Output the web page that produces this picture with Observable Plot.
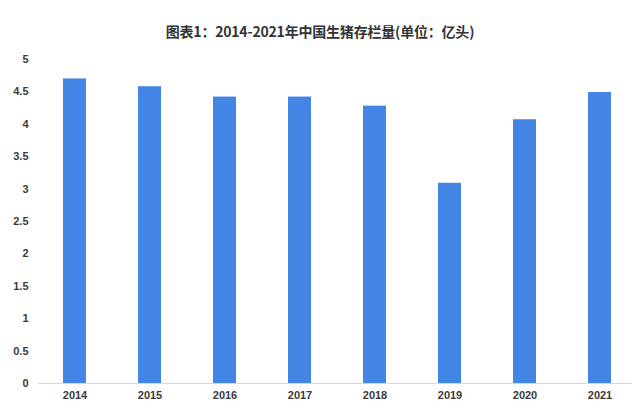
<!DOCTYPE html>
<html>
<head>
<meta charset="utf-8">
<script src="https://cdn.jsdelivr.net/npm/d3@7"></script>
<script src="https://cdn.jsdelivr.net/npm/@observablehq/plot@0.6"></script>
<style>
  html, body { margin: 0; padding: 0; background: #fff; }
  #wrap { width: 640px; height: 410px; overflow: hidden; }
  #title {
    box-sizing: border-box; height: 46px; padding-top: 21px; line-height: 20px;
    text-align: center; font: bold 14px "Noto Sans CJK SC", "Liberation Sans Narrow", sans-serif;
    color: #333; letter-spacing: -0.2px;
  }
</style>
</head>
<body>
<div id="wrap">
  <div id="title">图表1：2014-2021年中国生猪存栏量(单位：亿头)</div>
  <div id="chart"></div>
</div>
<script>
const years = ["2014", "2015", "2016", "2017", "2018", "2019", "2020", "2021"];
const values = [4.70, 4.58, 4.42, 4.42, 4.28, 3.09, 4.07, 4.49];
const yTicks = [0, 0.5, 1, 1.5, 2, 2.5, 3, 3.5, 4, 4.5, 5];

const data = years.map((y, i) => ({year: y, value: values[i]}));

const chart = Plot.plot({
  width: 640,
  height: 364,
  marginTop: 13,
  marginBottom: 27,
  marginLeft: 38,
  marginRight: 8,
  style: {fontFamily: "'Liberation Sans Narrow', 'Liberation Sans', sans-serif", fontSize: "11px", fontWeight: "bold", color: "#3a3a3a", background: "#fff"},
  x: {domain: years, paddingInner: 0.70, paddingOuter: 0.31, align: 0.54, label: null},
  y: {domain: [0, 5], label: null},
  marks: [
    Plot.axisY({ticks: yTicks, tickSize: 0, tickPadding: 10, tickFormat: d => String(d), label: null}),
    Plot.axisX({tickSize: 0, tickPadding: 8, label: null}),
    Plot.barY(data, {x: "year", y: "value", fill: "#4285e4"}),
    Plot.ruleY([0], {stroke: "#d9d9d9", strokeWidth: 1})
  ]
});
document.getElementById("chart").appendChild(chart);
</script>
</body>
</html>
